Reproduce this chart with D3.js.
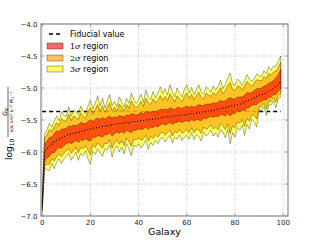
<!DOCTYPE html>
<html>
<head>
<meta charset="utf-8">
<script src="https://cdn.jsdelivr.net/npm/d3@7"></script>
<style>
  body { margin: 0; background: #fff; }
  .container { width: 320px; height: 240px; }
  text { font-family: "DejaVu Sans", sans-serif; }
</style>
</head>
<body>
<div class="container"></div>
<script>
// median of log10 G_N for each galaxy (dotted line)
var median = [
  -6.82,-6.00,-5.95,-5.91,-5.88,-5.84,-5.82,-5.80,-5.78,-5.76,
  -5.74,-5.73,-5.72,-5.71,-5.70,-5.69,-5.68,-5.67,-5.66,-5.65,
  -5.64,-5.63,-5.62,-5.62,-5.61,-5.60,-5.60,-5.59,-5.58,-5.58,
  -5.57,-5.56,-5.56,-5.55,-5.55,-5.54,-5.54,-5.53,-5.53,-5.52,
  -5.52,-5.51,-5.51,-5.50,-5.50,-5.49,-5.49,-5.48,-5.48,-5.47,
  -5.46,-5.46,-5.45,-5.45,-5.44,-5.44,-5.43,-5.43,-5.42,-5.42,
  -5.41,-5.41,-5.40,-5.40,-5.39,-5.39,-5.38,-5.37,-5.37,-5.36,
  -5.35,-5.35,-5.34,-5.33,-5.32,-5.31,-5.31,-5.30,-5.29,-5.28,
  -5.27,-5.26,-5.25,-5.24,-5.22,-5.20,-5.19,-5.17,-5.15,-5.13,
  -5.12,-5.10,-5.09,-5.07,-5.05,-5.03,-5.01,-4.98,-4.95,-4.90
];
// distances from the median to the band edges, in hundredths of a dex
var up1 = [
   3,13,12,14,11,13,15,12,14,12, 11,14,12,13,11,12,14,12,10,13,
  14,11,13,15,12,14,11,13,14,11, 12,10,13,11,10,12,11,13,12,10,
  11,13,10,14,12,11,13,11,12,14, 12,13,11,14,12,10,13,12,10,12,
  13,11,12,10,11,13,11,10,12,11, 10,12,10,11,13,10,11,13,14,11,
  10,12,11,10,11,13,11,10,11,12, 11,10,12,11,13,12,13,14,16,19
];
var dn1 = [
   4,16,14,16,13,17,14,13,16,14, 13,12,15,14,12,16,13,15,13,17,
  19,14,15,13,14,17,13,14,12,17, 14,13,15,13,16,12,14,17,13,14,
  12,14,13,11,15,12,13,11,13,11, 10,12,11, 9,13,10,11, 9,12,10,
  10,12, 9,12,10,11,13,10,11,10,  9,11,10,12,10,11,13,10,15,12,
  13,10,12,10,14,11,12,10,11,13, 10,11, 9,12,10,11, 9,12,10,11
];
var up2 = [
   7,21,22,26,20,24,28,22,30,25, 22,32,21,27,24,20,29,23,19,27,
  33,22,28,36,25,32,22,29,35,23, 27,20,31,25,19,28,22,33,26,21,
  25,30,22,34,27,23,32,25,29,35, 27,33,25,36,29,22,31,26,21,29,
  33,25,30,22,27,32,24,20,29,25, 22,28,23,27,32,22,27,34,38,26,
  23,29,27,21,25,30,25,20,23,26, 24,21,27,22,28,23,26,24,28,30
];
var dn2 = [
   8,21,24,28,22,30,25,23,29,26, 24,22,30,27,22,32,25,28,24,33,
  40,26,31,24,29,34,26,28,23,36, 29,25,32,27,35,24,30,38,27,29,
  26,31,28,24,33,27,30,25,29,24, 23,28,25,21,31,24,27,22,29,26,
  24,29,22,30,25,27,33,24,28,26, 23,29,27,32,24,28,34,26,42,31,
  36,27,30,25,38,27,33,24,28,35, 17,19,15,26,16,18,14,24,17,18
];
var up3 = [
  10,28,30,36,27,33,38,29,41,34, 30,44,28,36,33,27,40,31,25,37,
  45,30,38,50,33,44,29,39,48,31, 36,27,42,33,25,38,30,45,35,28,
  34,41,29,47,36,31,44,33,40,49, 37,45,34,50,39,30,43,35,28,40,
  46,33,41,30,37,44,32,27,39,34, 29,38,31,36,44,30,37,46,52,35,
  31,40,36,28,34,41,33,27,30,35, 32,28,36,30,38,31,35,32,37,40
];
var dn3 = [
  12,25,33,38,30,42,34,31,40,35, 33,29,41,36,30,44,34,39,32,46,
  55,36,42,33,40,47,35,38,31,50, 39,34,44,37,48,33,41,53,36,40,
  35,43,38,32,46,36,41,34,39,33, 31,38,34,29,42,33,37,30,40,35,
  33,39,30,41,34,37,45,32,38,35, 31,40,36,44,33,38,47,35,58,42,
  50,36,41,34,52,37,45,32,38,48, 22,25,20,36,21,24,19,33,22,24
];
var fiducial = -5.367;
var xTicks = [0, 20, 40, 60, 80, 100];
var yTicks = [-7.0, -6.5, -6.0, -5.5, -5.0, -4.5, -4.0];
var legendLabels = ['Fiducial value', '1', '2', '3'];

var svg = d3.select('.container')
  .append('svg')
  .attr('width', 320)
  .attr('height', 240);

var plotL = 41, plotR = 288, plotT = 24, plotB = 216;

var x = d3.scaleLinear().domain([-0.5, 102]).range([plotL, plotR]);
var y = d3.scaleLinear().domain([-7.0, -4.0]).range([plotB, plotT]);

// grid
var grid = svg.append('g').attr('class', 'grid');
grid.selectAll('line.gx')
  .data(xTicks)
  .enter()
  .append('line')
  .attr('x1', function(d) { return x(d); })
  .attr('x2', function(d) { return x(d); })
  .attr('y1', plotT)
  .attr('y2', plotB)
  .attr('stroke', '#b0b0b0')
  .attr('stroke-width', 0.7)
  .attr('stroke-dasharray', '1,1.5');
grid.selectAll('line.gy')
  .data(yTicks)
  .enter()
  .append('line')
  .attr('x1', plotL)
  .attr('x2', plotR)
  .attr('y1', function(d) { return y(d); })
  .attr('y2', function(d) { return y(d); })
  .attr('stroke', '#b0b0b0')
  .attr('stroke-width', 0.7)
  .attr('stroke-dasharray', '1,1.5');

// fiducial value, below the bands
svg.append('line')
  .attr('x1', x(0))
  .attr('x2', x(median.length - 1))
  .attr('y1', y(fiducial))
  .attr('y2', y(fiducial))
  .attr('stroke', '#000')
  .attr('stroke-width', 1.3)
  .attr('stroke-dasharray', '4,3');

// confidence bands
var bands = [
  { hi: up3, lo: dn3, color: '#ffff00', alpha: 0.6 },
  { hi: up2, lo: dn2, color: '#ffa500', alpha: 0.65 },
  { hi: up1, lo: dn1, color: '#ff0000', alpha: 0.6 }
];
var area = function(b) {
  return d3.area()
    .x(function(d, i) { return x(i); })
    .y0(function(d, i) { return y(d - b.lo[i] / 100); })
    .y1(function(d, i) { return y(d + b.hi[i] / 100); })(median);
};
svg.append('g')
  .selectAll('path')
  .data(bands)
  .enter()
  .append('path')
  .attr('d', area)
  .attr('fill', function(d) { return d.color; })
  .attr('fill-opacity', function(d) { return d.alpha; })
  .attr('stroke', '#000')
  .attr('stroke-opacity', 0.55)
  .attr('stroke-width', 0.6)
  .attr('stroke-linejoin', 'miter');

// median
svg.append('path')
  .attr('d', d3.line()
    .x(function(d, i) { return x(i); })
    .y(function(d) { return y(d); })(median))
  .attr('fill', 'none')
  .attr('stroke', '#000')
  .attr('stroke-width', 1.2)
  .attr('stroke-dasharray', '1,2');

// frame
svg.append('rect')
  .attr('x', plotL)
  .attr('y', plotT)
  .attr('width', plotR - plotL)
  .attr('height', plotB - plotT)
  .attr('fill', 'none')
  .attr('stroke', '#8c8c8c')
  .attr('stroke-width', 1.2);

// ticks on all sides, pointing in
var ticks = svg.append('g').attr('stroke', '#8c8c8c').attr('stroke-width', 0.8);
xTicks.forEach(function(t) {
  ticks.append('line').attr('x1', x(t)).attr('x2', x(t)).attr('y1', plotB).attr('y2', plotB - 3);
  ticks.append('line').attr('x1', x(t)).attr('x2', x(t)).attr('y1', plotT).attr('y2', plotT + 3);
});
yTicks.forEach(function(t) {
  ticks.append('line').attr('x1', plotL).attr('x2', plotL + 3).attr('y1', y(t)).attr('y2', y(t));
  ticks.append('line').attr('x1', plotR).attr('x2', plotR - 3).attr('y1', y(t)).attr('y2', y(t));
});

// tick labels
svg.selectAll('text.xt')
  .data(xTicks)
  .enter()
  .append('text')
  .attr('x', function(d) { return x(d); })
  .attr('y', plotB + 9)
  .attr('text-anchor', 'middle')
  .attr('font-size', 7)
  .attr('fill', '#222')
  .text(function(d) { return d; });
svg.selectAll('text.yt')
  .data(yTicks)
  .enter()
  .append('text')
  .attr('x', plotL - 3.5)
  .attr('y', function(d) { return y(d) + 2.5; })
  .attr('text-anchor', 'end')
  .attr('font-size', 7)
  .attr('fill', '#222')
  .text(function(d) { return '\u2212' + Math.abs(d).toFixed(1); });

// x label
svg.append('text')
  .attr('x', (plotL + plotR) / 2)
  .attr('y', 235)
  .attr('text-anchor', 'middle')
  .attr('font-size', 9.5)
  .text('Galaxy');

// y label: log10 ( G_N / kpc km^2 s^-2 M_sun^-1 )
var yl = svg.append('g').attr('transform', 'translate(0,160) rotate(-90)');
var logT = yl.append('text')
  .attr('x', 0)
  .attr('y', 12)
  .attr('font-family', 'DejaVu Serif')
  .attr('font-size', 9);
logT.append('tspan').text('log');
logT.append('tspan').attr('font-size', 6).attr('dy', 2).text('10');
yl.append('line')
  .attr('x1', 23).attr('x2', 73)
  .attr('y1', 8).attr('y2', 8)
  .attr('stroke', '#000').attr('stroke-width', 0.6);
var num = yl.append('text')
  .attr('x', 48)
  .attr('y', 6.5)
  .attr('text-anchor', 'middle')
  .attr('font-family', 'DejaVu Serif')
  .attr('font-style', 'italic')
  .attr('font-size', 6);
num.append('tspan').text('G');
num.append('tspan').attr('font-size', 4).attr('dy', 1).text('N');
var den = yl.append('text')
  .attr('x', 48)
  .attr('y', 13)
  .attr('text-anchor', 'middle')
  .attr('font-family', 'DejaVu Serif')
  .attr('font-size', 4.6);
den.append('tspan').text('kpc km');
den.append('tspan').attr('font-size', 3.4).attr('dy', -1.5).text('2');
den.append('tspan').attr('dy', 1.5).text(' s');
den.append('tspan').attr('font-size', 3.4).attr('dy', -1.5).text('\u22122');
den.append('tspan').attr('dy', 1.5).text(' M');
den.append('tspan').attr('font-size', 3.4).attr('dy', 1).text('\u2299');
den.append('tspan').attr('font-size', 3.4).attr('dy', -2.5).text('\u22121');

// legend
var lg = svg.append('g');
var rowY = [34, 46, 58, 69];
lg.append('line')
  .attr('x1', 49).attr('x2', 63)
  .attr('y1', rowY[0]).attr('y2', rowY[0])
  .attr('stroke', '#000')
  .attr('stroke-width', 1.3)
  .attr('stroke-dasharray', '4,3');
[bands[2], bands[1], bands[0]].forEach(function(b, i) {
  lg.append('rect')
    .attr('x', 47).attr('y', rowY[i + 1] - 3)
    .attr('width', 16).attr('height', 6)
    .attr('fill', b.color)
    .attr('fill-opacity', b.alpha)
    .attr('stroke', '#000')
    .attr('stroke-opacity', 0.55)
    .attr('stroke-width', 0.6);
});
legendLabels.forEach(function(l, i) {
  var t = lg.append('text')
    .attr('x', 70)
    .attr('y', rowY[i] + 3)
    .attr('font-size', 8);
  if (i === 0) {
    t.text(l);
  } else {
    t.append('tspan').attr('font-family', 'DejaVu Serif').text(l);
    t.append('tspan').attr('font-family', 'DejaVu Serif').attr('font-style', 'italic').text('\u03c3');
    t.append('tspan').text(' region');
  }
});
</script>
</body>
</html>
